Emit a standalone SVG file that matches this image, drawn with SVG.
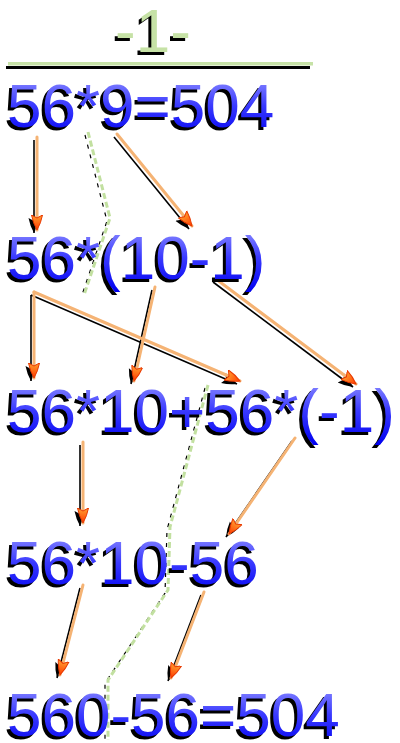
<svg xmlns="http://www.w3.org/2000/svg" width="400" height="743" viewBox="0 0 400 743">
<defs>
<linearGradient id="blueGrad" x1="0" y1="0" x2="0" y2="1">
<stop offset="0" stop-color="#9a9aff"/>
<stop offset="0.5" stop-color="#3a3aff"/>
<stop offset="1" stop-color="#0000f0"/>
</linearGradient>
<linearGradient id="headGrad" x1="0" y1="0" x2="1" y2="0">
<stop offset="0" stop-color="#ffa030"/>
<stop offset="1" stop-color="#ff3a00"/>
</linearGradient>
<marker id="head" viewBox="0 0 16 14" refX="15" refY="7" markerWidth="16" markerHeight="14" markerUnits="userSpaceOnUse" orient="auto">
<path d="M0,1.5 Q8,3 15,7 Q8,11 0,12.5 L3,7 Z" fill="url(#headGrad)" stroke="#e83800" stroke-width="1"/>
</marker>
<marker id="headShadow" viewBox="0 0 16 14" refX="15" refY="7" markerWidth="16" markerHeight="14" markerUnits="userSpaceOnUse" orient="auto">
<path d="M0,1.5 Q8,3 15,7 Q8,11 0,12.5 L3,7 Z" fill="#000"/>
</marker>
<style>
.t{font-family:"Liberation Sans",Arial,sans-serif;font-size:62px}
.sh{fill:#000}
.bl{fill:url(#blueGrad)}
.gr{fill:#c6e2a6}
.ln{fill:none;stroke:#f5b374;stroke-width:3;stroke-linecap:round;marker-end:url(#head)}
.lns{fill:none;stroke:#000;stroke-width:1.6;marker-end:url(#headShadow)}
.ds{fill:none;stroke:#c2e0a0;stroke-width:3;stroke-dasharray:6 3}
.dss{fill:none;stroke:#000;stroke-width:1.2;stroke-dasharray:4 6}
</style>
</defs>
<rect width="400" height="743" fill="#fff"/>

<g id="title">
<text class="t sh" x="112" y="55">-1-</text>
<text class="t gr" x="115" y="52">-1-</text>
<rect x="6" y="66" width="304" height="3" fill="#000"/>
<rect x="8" y="62" width="305" height="3.5" fill="#c6e2a6"/>
</g>

<g id="connectors">
<g id="shadows" transform="translate(-3,3)">
<path class="dss" d="M88,132 L110,218 L84,295"/>
<path class="dss" d="M208,385 L170,527 L168,590 L108,680 L108,740"/>
<path class="lns" d="M37,137 L37,230"/>
<path class="lns" d="M117,134 L192,226"/>
<path class="lns" d="M34,292 L34,378"/>
<path class="lns" d="M34,292 L240,381"/>
<path class="lns" d="M155,287 L134,381"/>
<path class="lns" d="M216,279 L356,384"/>
<path class="lns" d="M83,442 L83,523"/>
<path class="lns" d="M295,438 L229,534"/>
<path class="lns" d="M83,585 L60,675"/>
<path class="lns" d="M204,592 L171,678"/>
</g>
<g id="mains">
<path class="ds" d="M88,132 L110,218 L84,295"/>
<path class="ds" d="M208,385 L170,527 L168,590 L108,680 L108,740"/>
<path class="ln" d="M37,137 L37,230"/>
<path class="ln" d="M117,134 L192,226"/>
<path class="ln" d="M34,292 L34,378"/>
<path class="ln" d="M34,292 L240,381"/>
<path class="ln" d="M155,287 L134,381"/>
<path class="ln" d="M216,279 L356,384"/>
<path class="ln" d="M83,442 L83,523"/>
<path class="ln" d="M295,438 L229,534"/>
<path class="ln" d="M83,585 L60,675"/>
<path class="ln" d="M204,592 L171,678"/>
</g>
</g>

<g id="n1">
<text class="t sh" x="4" y="130">56*9=504</text>
<text class="t bl" x="7" y="127">56*9=504</text>
</g>
<g id="n2">
<text class="t sh" x="4" y="282">56*(10-1)</text>
<text class="t bl" x="7" y="279">56*(10-1)</text>
</g>
<g id="n3">
<text class="t sh" x="4" y="435">56*10+56*(-1)</text>
<text class="t bl" x="7" y="432">56*10+56*(-1)</text>
</g>
<g id="n4">
<text class="t sh" x="4" y="587">56*10-56</text>
<text class="t bl" x="7" y="584">56*10-56</text>
</g>
<g id="n5">
<text class="t sh" x="4" y="739">560-56=504</text>
<text class="t bl" x="7" y="736">560-56=504</text>
</g>
</svg>
